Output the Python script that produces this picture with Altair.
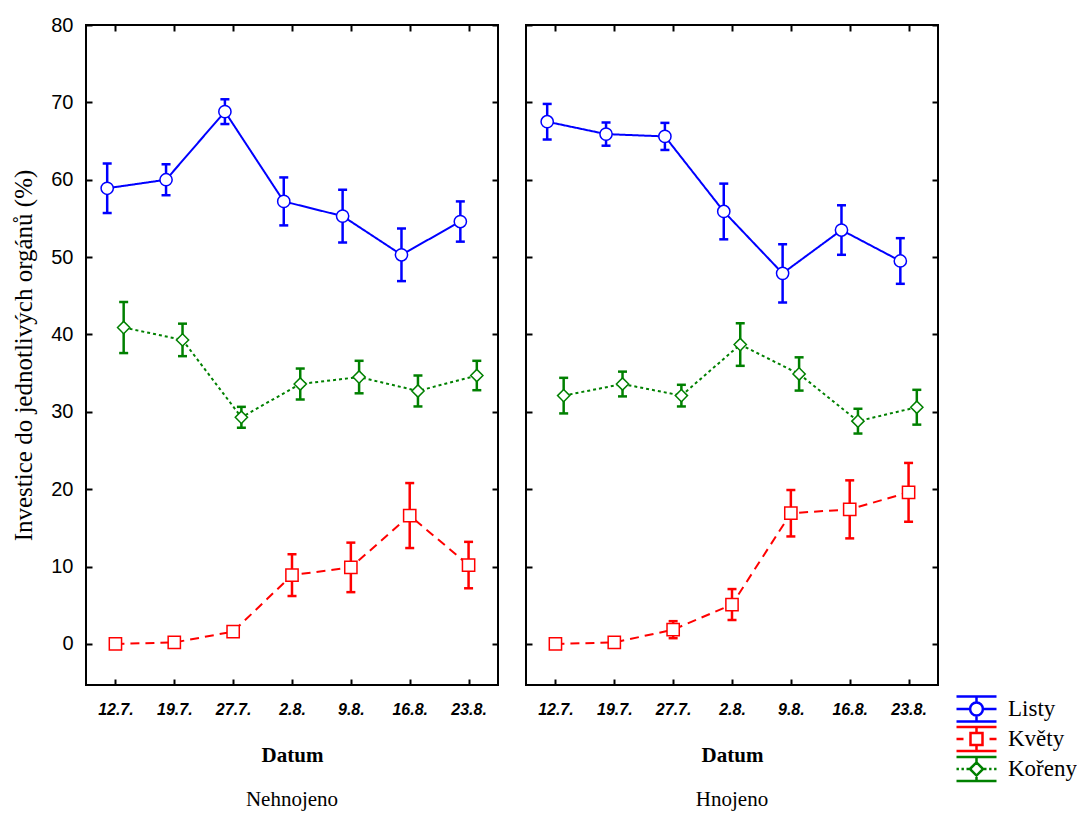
import altair as alt
import pandas as pd

# Sampling dates and organ groups
dates = ["12.7.", "19.7.", "27.7.", "2.8.", "9.8.", "16.8.", "23.8."]
series = ["Listy", "Květy", "Kořeny"]
panels = ["Nehnojeno", "Hnojeno"]

# Mean investment (%) and half-width of the error bar, unfertilised plots
neh_listy = [58.9, 60.0, 68.8, 57.2, 55.3, 50.3, 54.6]
neh_listy_err = [3.2, 2.0, 1.6, 3.1, 3.4, 3.4, 2.6]
neh_kvety = [0.0, 0.2, 1.6, 8.9, 9.9, 16.6, 10.2]
neh_kvety_err = [0.0, 0.0, 0.3, 2.7, 3.2, 4.2, 3.0]
neh_koreny = [40.9, 39.3, 29.3, 33.6, 34.5, 32.7, 34.7]
neh_koreny_err = [3.3, 2.1, 1.35, 2.0, 2.1, 2.0, 1.9]

# Fertilised plots
hno_listy = [67.5, 65.9, 65.6, 55.9, 47.9, 53.5, 49.5]
hno_listy_err = [2.3, 1.5, 1.75, 3.6, 3.75, 3.2, 2.95]
hno_kvety = [0.0, 0.2, 1.85, 5.1, 16.9, 17.4, 19.6]
hno_kvety_err = [0.0, 0.0, 1.1, 2.0, 3.0, 3.75, 3.8]
hno_koreny = [32.1, 33.6, 32.1, 38.7, 34.9, 28.8, 30.6]
hno_koreny_err = [2.3, 1.6, 1.4, 2.75, 2.15, 1.6, 2.25]

y_ticks = [0, 10, 20, 30, 40, 50, 60, 70, 80]

values = {
    ("Nehnojeno", "Listy"): (neh_listy, neh_listy_err),
    ("Nehnojeno", "Květy"): (neh_kvety, neh_kvety_err),
    ("Nehnojeno", "Kořeny"): (neh_koreny, neh_koreny_err),
    ("Hnojeno", "Listy"): (hno_listy, hno_listy_err),
    ("Hnojeno", "Květy"): (hno_kvety, hno_kvety_err),
    ("Hnojeno", "Kořeny"): (hno_koreny, hno_koreny_err),
}

# per-series styling
colors = {"Listy": "#0000ff", "Květy": "#ff0000", "Kořeny": "#008000"}
dashes = {"Listy": [1, 0], "Květy": [9, 6], "Kořeny": [3, 3]}
marker_shapes = {"Listy": "circle", "Květy": "square", "Kořeny": "diamond"}
# horizontal dodge of each series within a date (in category units)
dodge = {"Listy": -0.14, "Květy": 0.0, "Kořeny": 0.14}

rows = []
for (panel_name, s), (means, errs) in values.items():
    for i, (m, e) in enumerate(zip(means, errs)):
        rows.append({
            "panel": panel_name, "series": s, "idx": i,
            "xpos": i + dodge[s], "mean": m, "lo": m - e, "hi": m + e,
        })
df = pd.DataFrame(rows)

W, H = 412, 660
x_scale = alt.Scale(domain=[-0.5, 6.5], nice=False, zero=False)
y_scale = alt.Scale(domain=[-5.3, 80], nice=False, zero=False)
label_expr = "[" + ",".join(f"'{d}'" for d in dates) + "][datum.value]"

# legend glyphs: error-bar style symbol with the series marker in the middle
legend_paths = [
    "M-1,-0.62H1M-1,0.62H1M0,-0.62V-0.32M0,0.32V0.62M-1,0H-0.32M0.32,0H1"
    "M0.32,0A0.32,0.32 0 1,1 -0.32,0A0.32,0.32 0 1,1 0.32,0Z",
    "M-1,-0.6H1M-1,0.6H1M0,-0.6V-0.3M0,0.3V0.6M-1,0H-0.65M0.65,0H1"
    "M-0.3,-0.3H0.3V0.3H-0.3Z",
    "M-1,-0.6H1M-1,0.6H1M0,-0.6V-0.33M0,0.33V0.6"
    "M-1,0H-0.88M-0.75,0H-0.63M-0.5,0H-0.38M0.38,0H0.5M0.63,0H0.75M0.88,0H1"
    "M-0.33,0L0,-0.33L0.33,0L0,0.33Z",
]

inner = dict(labels=False, domain=False, grid=False, title=None,
             tickSize=6, tickWidth=2, tickColor="black")


def panel(name, first, with_legend):
    d = df[df.panel == name]

    if first:
        y_axis = alt.Axis(values=y_ticks, orient="left", tickSize=0, domain=False,
                          grid=False, labelFont="Liberation Sans", labelFontSize=20,
                          labelColor="black", labelPadding=13,
                          title="Investice do jednotlivých orgánů (%)",
                          titleFont="Liberation Serif", titleFontSize=25,
                          titleFontWeight="normal", titleColor="black",
                          titlePadding=14)
    else:
        y_axis = None

    x_axis = alt.Axis(values=list(range(7)), labelExpr=label_expr, orient="bottom",
                      tickSize=0, domain=False, grid=False,
                      labelFont="Liberation Sans", labelFontSize=16,
                      labelFontStyle="italic", labelFontWeight="bold",
                      labelColor="black", labelPadding=16,
                      title="Datum", titleFont="Liberation Serif", titleFontSize=21,
                      titleFontWeight="bold", titleColor="black", titlePadding=27)

    def X(axis=None):
        return alt.X("xpos:Q", scale=x_scale, axis=axis)

    def Y(field, axis=None):
        return alt.Y(field, scale=y_scale, axis=axis)

    layers = []
    for k, s in enumerate(series):
        base = alt.Chart(d).transform_filter(alt.datum.series == s)
        c = colors[s]
        own_axes = k == 0
        layers.append(base.mark_rule(strokeWidth=2.5, color=c).encode(
            x=X(x_axis if own_axes else None),
            y=Y("lo:Q", y_axis if own_axes else None).title(
                "Investice do jednotlivých orgánů (%)"),
            y2="hi:Q",
        ))
        layers.append(base.mark_tick(orient="horizontal", size=9, thickness=2.5,
                                     color=c, opacity=1).encode(
            x=X(alt.Axis(values=list(range(7)), orient="top", offset=-H, **inner)
                if own_axes else None),
            y=Y("lo:Q", alt.Axis(values=y_ticks, orient="right", offset=-W, **inner)
                if own_axes else None),
        ))
        layers.append(base.mark_tick(orient="horizontal", size=9, thickness=2.5,
                                     color=c, opacity=1).encode(
            x=X(alt.Axis(values=list(range(7)), orient="bottom", offset=-H, **inner)
                if own_axes else None),
            y=Y("hi:Q", alt.Axis(values=y_ticks, orient="left", offset=-W, **inner)
                if own_axes else None),
        ))
    for s in series:
        base = alt.Chart(d).transform_filter(alt.datum.series == s)
        layers.append(base.mark_line(strokeWidth=2, color=colors[s],
                                     strokeDash=dashes[s]).encode(
            x=X(), y=Y("mean:Q"), order="idx:Q",
        ))
    for s in series:
        base = alt.Chart(d).transform_filter(alt.datum.series == s)
        layers.append(base.mark_point(shape=marker_shapes[s], size=150, filled=False,
                                      fill="white", color=colors[s],
                                      strokeWidth=1.5, opacity=1).encode(
            x=X(), y=Y("mean:Q"),
        ))
    if with_legend:
        leg = dict(orient="none", legendX=869, legendY=669, title=None)
        layers.append(
            alt.Chart(pd.DataFrame({"series": series}))
            .mark_point(opacity=0, fill="white")
            .encode(
                color=alt.Color("series:N", sort=series, legend=alt.Legend(**leg),
                                scale=alt.Scale(domain=series,
                                                range=[colors[s] for s in series])),
                shape=alt.Shape("series:N", sort=series, legend=alt.Legend(**leg),
                                scale=alt.Scale(domain=series, range=legend_paths)),
            )
        )
    return (
        alt.layer(*layers)
        .resolve_axis(x="independent", y="independent")
        .properties(
            width=W, height=H,
            title=alt.TitleParams(name, orient="bottom", font="Liberation Serif",
                                  fontSize=21, fontWeight="normal", color="black",
                                  offset=24, anchor="middle"),
        )
    )


chart = (
    alt.hconcat(panel("Nehnojeno", True, False), panel("Hnojeno", False, True), spacing=24)
    .properties(padding={"left": 10, "top": 14, "right": 0, "bottom": 0},
                background="white")
    .configure_view(stroke="black", strokeWidth=2)
    .configure_legend(symbolSize=1600, symbolStrokeWidth=2.5, symbolFillColor="white",
                      symbolOpacity=1, labelFont="Liberation Serif", labelFontSize=23,
                      labelColor="black", labelOffset=10, clipHeight=30, rowPadding=0,
                      padding=0)
)

chart.save("out.html", embed_options={"renderer": "svg", "actions": False})
